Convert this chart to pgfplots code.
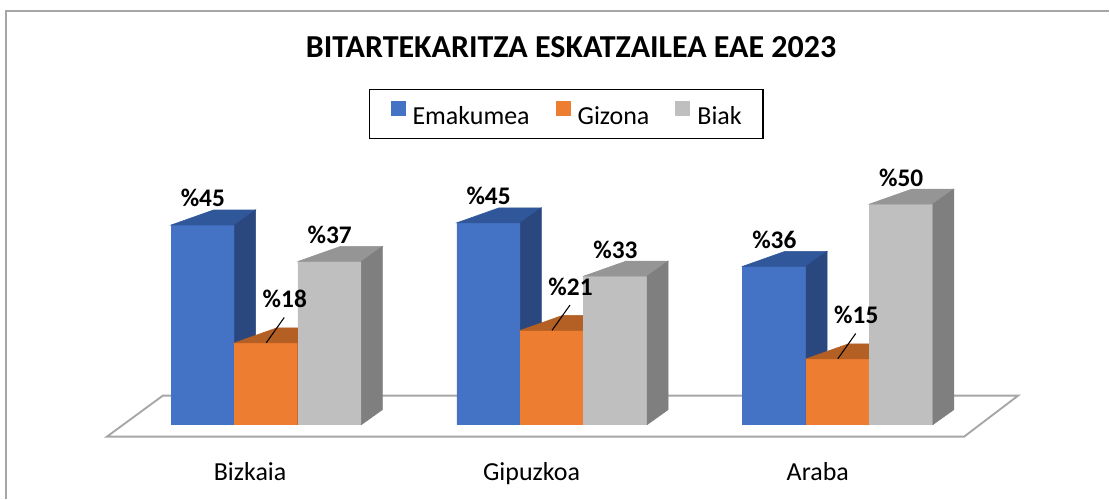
\documentclass[border=0pt]{standalone}
\usepackage{pgfplots}
\pgfplotsset{compat=1.18}
\usepackage{pgfplotstable}
\usepackage{fontspec}
\setmainfont{Carlito}
\definecolor{cBlue}{HTML}{4472C4}
\definecolor{cBlueTop}{HTML}{30579A}
\definecolor{cBlueSide}{HTML}{2A4780}
\definecolor{cOrange}{HTML}{ED7D31}
\definecolor{cOrangeTop}{HTML}{B45F24}
\definecolor{cOrangeSide}{HTML}{9E5220}
\definecolor{cGray}{HTML}{BFBFBF}
\definecolor{cGrayTop}{HTML}{959595}
\definecolor{cGraySide}{HTML}{7F7F7F}
\definecolor{cFloor}{HTML}{A6A6A6}

\pgfplotstableread{
g  e     m     b
0  44.9  18.4  36.7
1  45.4  21.2  33.4
2  35.6  14.8  49.6
}\datatable

\pgfdeclareplotmark{empty}{}

\pgfplotsset{
  front/.style={ybar, bar width=0.222, bar shift=0pt, draw=none, fill=#1,
    legend image code/.code={\fill[##1] (0pt,0pt) rectangle (11.25pt,11.25pt);}},
  faces/.style n args={4}{forget plot, scatter, only marks, mark=empty,
    visualization depends on={rawy \as \hv},
    scatter/@pre marker code/.code={%
      \pgfmathsetmacro\hh{\hv*3.3375}%
      \fill[#1] (-23.8125pt,-\hh pt) rectangle (23.8125pt,0pt);
      \fill[#2] (-23.8125pt,0pt) -- (23.8125pt,0pt) -- (39.5625pt,11.25pt) -- (7.9375pt,11.25pt) -- cycle;
      \fill[#3] (23.8125pt,0pt) -- (39.5625pt,11.25pt) -- (39.5625pt,11.25pt-\hh pt) -- (23.8125pt,-\hh pt) -- cycle;
      #4
    },
    scatter/@post marker code/.code={}},
  labels/.style={forget plot, on layer=axis foreground, only marks, mark=empty,
    nodes near coords={\%\pgfmathprintnumber[fixed,precision=0,assume math mode=true]{\pgfplotspointmeta}},
    every node near coord/.append style={font=\fontsize{19}{19}\selectfont\bfseries, text=black, anchor=center, yshift=20pt, xshift=0pt}},
}

\begin{document}
\begin{tikzpicture}
\begin{axis}[
  set layers,
  x=214.5pt, y=3.3375pt,
  xmin=-0.93182, xmax=2.94930, ymin=-16.629, ymax=95.506,
  clip=false,
  axis line style={draw=none}, tick style={draw=none},
  ytick=\empty,
  xtick={-0.0566,0.9283,1.9301}, xticklabels={Bizkaia,Gipuzkoa,Araba},
  xticklabel style={font=\fontsize{19.5}{19.5}\selectfont, anchor=base, yshift=13.5pt},
  legend columns=3,
  legend style={at={(rel axis cs:0.5105,0.7715)}, anchor=center, draw=black, line width=1.1pt,
    font=\fontsize{19.5}{19.5}\selectfont, inner xsep=16pt, inner ysep=9pt,
    nodes={inner sep=0pt},
    /tikz/every odd column/.append style={column sep=5.25pt},
    /tikz/every even column/.append style={column sep=19.5pt}},
]
% outer chart border
\draw[color=cFloor, line width=1.5pt] (rel axis cs:0.00586,0) -- (rel axis cs:0.00586,0.977) -- (rel axis cs:1,0.977);
% title
\node[anchor=base, font=\fontsize{24}{24}\selectfont\bfseries] at (rel axis cs:0.5149,0.8838) {BITARTEKARITZA ESKATZAILEA EAE 2023};
% floor
\addplot[forget plot, fill=white, draw=cFloor, line width=1.4pt] coordinates {(-0.5577,-2.70) (2.4423,-2.70) (2.6311,6.52) (-0.3619,6.52)} -- cycle;

\addplot[front=cBlue] table[x expr=\thisrow{g}-0.222, y=e]{\datatable};
\addlegendentry{Emakumea}
\addplot[front=cOrange] table[x=g, y=m]{\datatable};
\addlegendentry{Gizona}
\addplot[front=cGray] table[x expr=\thisrow{g}+0.222, y=b]{\datatable};
\addlegendentry{Biak}

\addplot[faces={cBlue}{cBlueTop}{cBlueSide}{}] table[x expr=\thisrow{g}-0.222, y=e]{\datatable};
\addplot[faces={cOrange}{cOrangeTop}{cOrangeSide}{\draw[black, line width=0.8pt] (0pt,0pt) -- (13.5pt,19pt);}] table[x=g, y=m]{\datatable};
\addplot[faces={cGray}{cGrayTop}{cGraySide}{}] table[x expr=\thisrow{g}+0.222, y=b]{\datatable};

\addplot[labels] table[x expr=\thisrow{g}-0.222, y=e]{\datatable};
\addplot[labels, every node near coord/.append style={xshift=13.9pt, yshift=13pt}] table[x=g, y=m]{\datatable};
\addplot[labels] table[x expr=\thisrow{g}+0.222, y=b]{\datatable};
\end{axis}
\end{tikzpicture}
\end{document}
